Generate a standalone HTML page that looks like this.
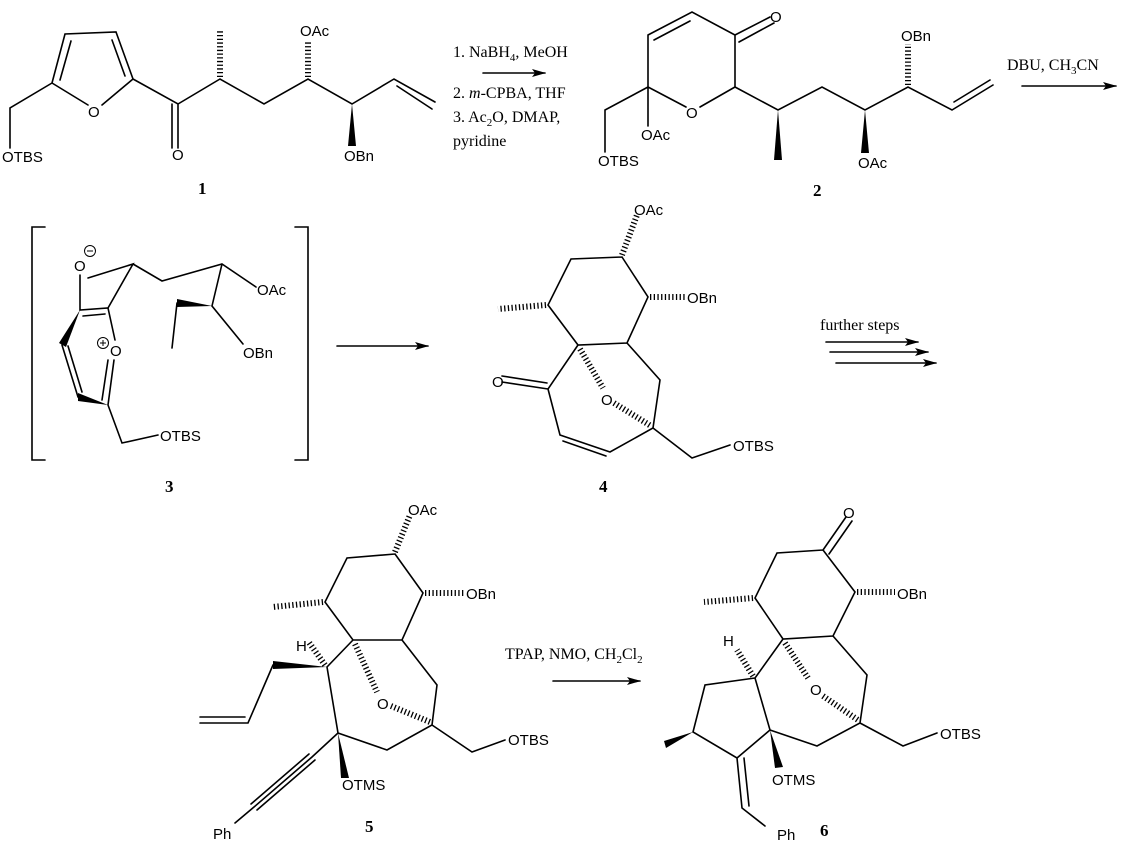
<!DOCTYPE html>
<html><head><meta charset="utf-8"><style>
html,body{margin:0;padding:0;background:#fff}
svg{display:block}
.b{stroke:#000;stroke-width:1.6;fill:none;stroke-linecap:round}
.h{stroke:#000;stroke-width:6;fill:none;stroke-dasharray:1.3 2.4}
.t{font-family:"Liberation Sans",sans-serif;font-size:15px;fill:#000}
.r{font-family:"Liberation Serif",serif;font-size:16px;fill:#000}
.n{font-family:"Liberation Serif",serif;font-size:17px;font-weight:bold;fill:#000}
</style></head><body>
<svg width="1128" height="845" viewBox="0 0 1128 845" xmlns="http://www.w3.org/2000/svg">
<defs><marker id="ar" markerWidth="14" markerHeight="8" refX="13" refY="4" orient="auto" markerUnits="userSpaceOnUse"><path d="M0,0 L14,4 L0,8 L3,4 Z" fill="#000"/></marker></defs>

<!-- Compound 1 -->
<path class="b" d="M52,83 L65,34 L116,32 L133,79 L102,105 M88,105 L52,83 M60,80 L71,41 M112,40 L125,76 M52,83 L10,108 L10,148 M133,79 L178,104 L220,79 L264,104 L308,79 L352,104 L394,79 L435,102 M397,86 L432,109 M178,104 L178,148 M172,104 L172,148"/>
<text class="t" x="88" y="117">O</text>
<text class="t" x="172" y="160">O</text>
<line class="h" x1="220" y1="77" x2="220" y2="30"/>
<line class="h" x1="308" y1="77" x2="308" y2="40"/>
<text class="t" x="300" y="36">OAc</text>
<polygon points="352,104 348,146 356,146"/>
<text class="t" x="344" y="161">OBn</text>
<text class="t" x="2" y="162">OTBS</text>
<text class="n" x="198" y="194">1</text>

<!-- Arrow 1 -->
<text class="r" x="453" y="57">1. NaBH<tspan font-size="11" dy="4">4</tspan><tspan dy="-4">, MeOH</tspan></text>
<line class="b" x1="483" y1="73" x2="545" y2="73" marker-end="url(#ar)"/>
<text class="r" x="453" y="98">2. <tspan font-style="italic">m</tspan>-CPBA, THF</text>
<text class="r" x="453" y="122">3. Ac<tspan font-size="11" dy="4">2</tspan><tspan dy="-4">O, DMAP,</tspan></text>
<text class="r" x="453" y="146">pyridine</text>

<!-- Compound 2 -->
<path class="b" d="M648,35 L692,12 L735,35 L735,87 L700,107 M686,107 L648,87 L648,35 M654,40 L690,21 M735,35 L770,17 M739,42 L774,23 M648,87 L605,110 L605,152 M648,87 L648,126 M735,87 L778,110 L822,87 L865,110 L908,87 L952,110 L993,85 M954,102 L990,80"/>
<text class="t" x="770" y="22">O</text>
<text class="t" x="686" y="118">O</text>
<text class="t" x="641" y="140">OAc</text>
<text class="t" x="598" y="166">OTBS</text>
<polygon points="778,110 774,160 782,160"/>
<polygon points="865,110 861,153 869,153"/>
<text class="t" x="858" y="168">OAc</text>
<line class="h" x1="908" y1="85" x2="908" y2="44"/>
<text class="t" x="901" y="41">OBn</text>
<text class="n" x="813" y="196">2</text>

<!-- Arrow 2 -->
<text class="r" x="1007" y="70">DBU, CH<tspan font-size="11" dy="4">3</tspan><tspan dy="-4">CN</tspan></text>
<line class="b" x1="1022" y1="86" x2="1116" y2="86" marker-end="url(#ar)"/>

<!-- Compound 3 -->
<path class="b" d="M45,227 L32,227 L32,460 L45,460 M295,227 L308,227 L308,460 L295,460"/>
<text class="t" x="74" y="271">O</text>
<circle cx="90" cy="251" r="5.5" fill="none" stroke="#000" stroke-width="1"/>
<line x1="87" y1="251" x2="93" y2="251" stroke="#000" stroke-width="1"/>
<path class="b" d="M80,275 L80,310 L108,308 L115,340 M83,316 L105,314 M108,405 L114,360 M102,400 L108,360 M88,278 L133,264 L108,308 M133,264 L162,281 L222,264 L256,287 M222,264 L212,306 L243,344 M177,303 L172,348 M108,405 L122,443 L158,435 M62,345 L78,397 M68,346 L82,392"/>
<polygon points="80,310 59,343 66,347"/>
<polygon points="108,405 78,393 78,401"/>
<polygon points="212,306 177,299 177,307"/>
<text class="t" x="110" y="356">O</text>
<circle cx="103" cy="343" r="5.5" fill="none" stroke="#000" stroke-width="1"/>
<path d="M100,343 L106,343 M103,340 L103,346" stroke="#000" stroke-width="1"/>
<text class="t" x="257" y="295">OAc</text>
<text class="t" x="243" y="358">OBn</text>
<text class="t" x="160" y="441">OTBS</text>
<text class="n" x="165" y="492">3</text>
<line class="b" x1="337" y1="346" x2="428" y2="346" marker-end="url(#ar)"/>

<!-- Compound 4 -->
<path class="b" d="M622,257 L571,259 L548,305 L578,345 L627,343 L648,297 L622,257 M578,345 L548,389 L560,435 L610,452 L653,428 L660,380 L627,343 M563,441 L606,456 M548,389 L502,382 M547,383 L502,376 M653,428 L692,458 L730,445"/>
<line class="h" x1="622" y1="255" x2="637" y2="215"/>
<text class="t" x="634" y="215">OAc</text>
<line class="h" x1="546" y1="305" x2="498" y2="309"/>
<line class="h" x1="650" y1="297" x2="686" y2="297"/>
<text class="t" x="687" y="303">OBn</text>
<text class="t" x="492" y="387">O</text>
<line class="h" x1="580" y1="349" x2="603" y2="388"/>
<text class="t" x="601" y="405">O</text>
<line class="h" x1="614" y1="403" x2="651" y2="426"/>
<text class="t" x="733" y="451">OTBS</text>
<text class="n" x="599" y="492">4</text>

<!-- further steps -->
<text class="r" x="820" y="330">further steps</text>
<line class="b" x1="826" y1="342" x2="918" y2="342" marker-end="url(#ar)"/>
<line class="b" x1="830" y1="352" x2="928" y2="352" marker-end="url(#ar)"/>
<line class="b" x1="836" y1="363" x2="936" y2="363" marker-end="url(#ar)"/>

<!-- Compound 5 -->
<path class="b" d="M395,554 L347,558 L325,602 L353,640 L402,640 L423,593 L395,554 M353,640 L327,667 L338,733 L387,750 L432,725 L437,685 L402,640 M273,665 L248,723 L200,723 M245,717 L200,717 M338,733 L312,757 L254,807 L235,823 M315,760 L257,810 M309,754 L251,804 M432,725 L472,752 L505,740"/>
<line class="h" x1="395" y1="552" x2="410" y2="515"/>
<text class="t" x="408" y="515">OAc</text>
<line class="h" x1="323" y1="602" x2="273" y2="607"/>
<line class="h" x1="425" y1="593" x2="465" y2="593"/>
<text class="t" x="466" y="599">OBn</text>
<text class="t" x="296" y="651">H</text>
<line class="h" x1="325" y1="665" x2="308" y2="641"/>
<polygon points="327,667 273,661 273,669"/>
<polygon points="338,733 341,778 349,778"/>
<text class="t" x="342" y="790">OTMS</text>
<text class="t" x="213" y="839">Ph</text>
<line class="h" x1="355" y1="644" x2="377" y2="692"/>
<text class="t" x="377" y="709">O</text>
<line class="h" x1="391" y1="706" x2="430" y2="722"/>
<text class="t" x="508" y="745">OTBS</text>
<text class="n" x="365" y="832">5</text>

<!-- Arrow 3 -->
<text class="r" x="505" y="659">TPAP, NMO, CH<tspan font-size="11" dy="4">2</tspan><tspan dy="-4">Cl</tspan><tspan font-size="11" dy="4">2</tspan></text>
<line class="b" x1="553" y1="681" x2="640" y2="681" marker-end="url(#ar)"/>

<!-- Compound 6 -->
<path class="b" d="M823,550 L777,553 L755,598 L783,639 L833,636 L855,592 L823,550 M823,550 L846,517 M829,554 L852,521 M783,639 L755,678 L770,730 L817,746 L860,723 L867,675 L833,636 M755,678 L705,685 L693,732 L737,758 L770,730 M737,758 L742,808 L765,826 M744,758 L749,806 M860,723 L903,746 L937,733"/>
<text class="t" x="843" y="518">O</text>
<line class="h" x1="753" y1="598" x2="704" y2="602"/>
<line class="h" x1="857" y1="592" x2="895" y2="592"/>
<text class="t" x="897" y="599">OBn</text>
<text class="t" x="723" y="646">H</text>
<line class="h" x1="753" y1="676" x2="737" y2="650"/>
<polygon points="693,732 664,741 666,748"/>
<polygon points="770,730 775,768 783,767"/>
<text class="t" x="772" y="785">OTMS</text>
<text class="t" x="777" y="840">Ph</text>
<line class="h" x1="785" y1="643" x2="808" y2="678"/>
<text class="t" x="810" y="695">O</text>
<line class="h" x1="823" y1="696" x2="858" y2="720"/>
<text class="t" x="940" y="739">OTBS</text>
<text class="n" x="820" y="836">6</text>
</svg>
</body></html>
